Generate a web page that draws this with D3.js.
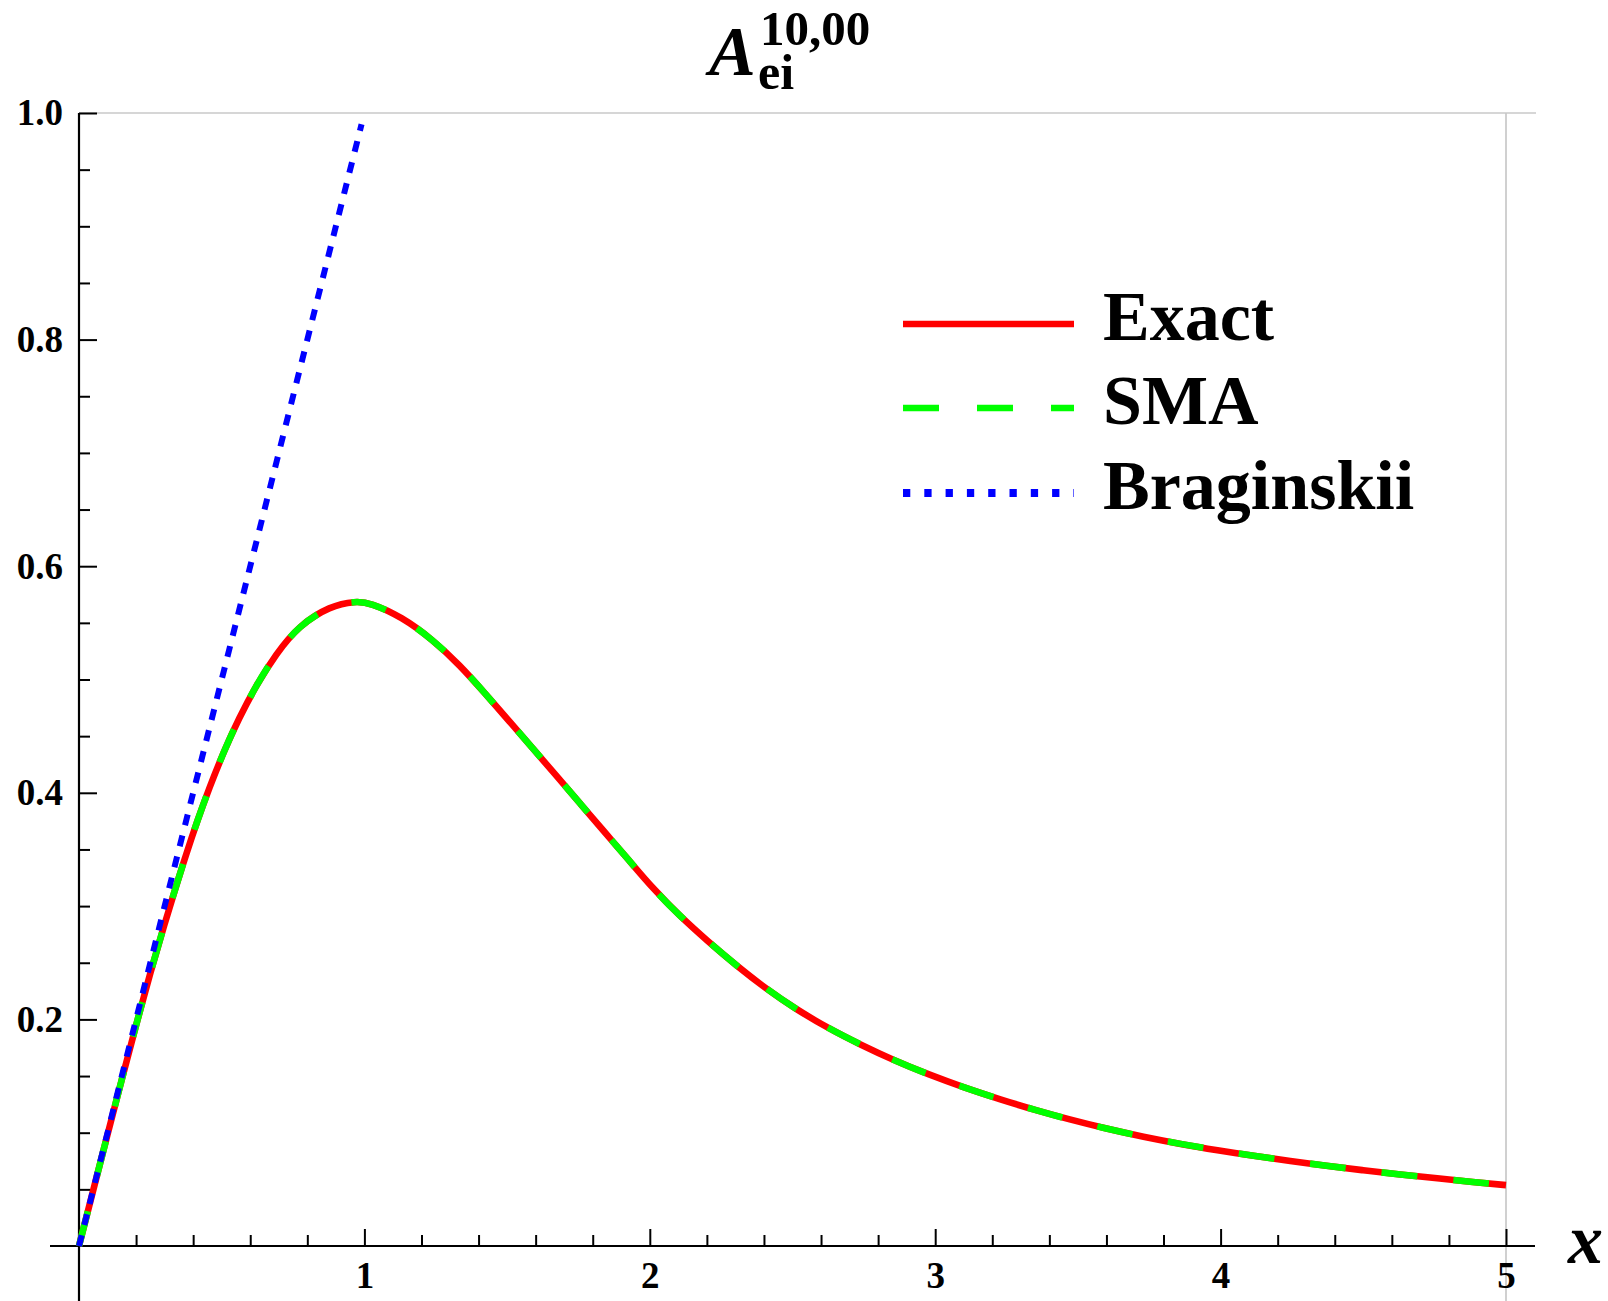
<!DOCTYPE html>
<html><head><meta charset="utf-8">
<script src="https://cdn.jsdelivr.net/npm/d3@7"></script>
<style>
body{margin:0;background:#fff}
text{font-family:"Liberation Serif","Times New Roman",serif;font-weight:bold;fill:#000}
</style>
</head><body>
<svg id="c" width="1608" height="1301"></svg>
<script>
// ---- data ----
const xValues = [0, 0.05, 0.10, 0.15, 0.20, 0.25, 0.30, 0.34, 0.375, 0.415, 0.455, 0.51, 0.56, 0.62, 0.69, 0.77, 0.88, 0.97, 1.02, 1.13, 1.24, 1.335, 1.42, 1.51, 1.59, 1.67, 1.755, 1.84, 1.925, 2.01, 2.105, 2.205, 2.305, 2.405, 2.515, 2.63, 2.74, 2.85, 2.98, 3.10, 3.23, 3.35, 3.47, 3.60, 3.73, 3.86, 3.99, 4.115, 4.245, 4.37, 4.50, 4.63, 4.76, 4.885, 5.0];
const exactValues = [0, 0.0494, 0.0985, 0.147, 0.195, 0.2415, 0.2845, 0.3175, 0.3455, 0.3755, 0.4035, 0.438, 0.4655, 0.4945, 0.5225, 0.5475, 0.565, 0.5692, 0.5677, 0.5555, 0.535, 0.5125, 0.4885, 0.4625, 0.4392, 0.4158, 0.3908, 0.3658, 0.341, 0.3158, 0.2912, 0.2685, 0.2472, 0.2275, 0.2085, 0.1915, 0.1775, 0.1645, 0.151, 0.140, 0.1292, 0.120, 0.1117, 0.1035, 0.0963, 0.090, 0.0845, 0.0796, 0.075, 0.0708, 0.0668, 0.0631, 0.0597, 0.0565, 0.0537];
const smaValues = [0, 0.0494, 0.0985, 0.147, 0.195, 0.2415, 0.2845, 0.3175, 0.3455, 0.3755, 0.4035, 0.438, 0.4655, 0.4945, 0.5225, 0.5475, 0.565, 0.5692, 0.5677, 0.5555, 0.535, 0.5125, 0.4885, 0.4625, 0.4392, 0.4158, 0.3908, 0.3658, 0.341, 0.3158, 0.2912, 0.2685, 0.2472, 0.2275, 0.2085, 0.1915, 0.1775, 0.1645, 0.151, 0.140, 0.1292, 0.120, 0.1117, 0.1035, 0.0963, 0.090, 0.0845, 0.0796, 0.075, 0.0708, 0.0668, 0.0631, 0.0597, 0.0565, 0.0537];
const braginskiiX = [0, 0.99];
const braginskiiValues = [0, 0.99];
const xTickValues = [1, 2, 3, 4, 5];
const xTickLabels = ["1", "2", "3", "4", "5"];
const yTickValues = [0.2, 0.4, 0.6, 0.8, 1.0];
const yTickLabels = ["0.2", "0.4", "0.6", "0.8", "1.0"];
const seriesNames = ["Exact", "SMA", "Braginskii"];
const seriesColors = ["#ff0000", "#00ff00", "#0000ff"];

// ---- layout ----
const svg = d3.select("#c");
const x = d3.scaleLinear().domain([0, 5]).range([79, 1506]);
const y = d3.scaleLinear().domain([0, 1]).range([1246, 113]);

// gray frame (top and right)
svg.append("line").attr("x1", x(0)).attr("x2", 1536).attr("y1", y(1)).attr("y2", y(1))
  .attr("stroke", "#c8c8c8").attr("stroke-width", 1.7);
svg.append("line").attr("x1", x(5)).attr("x2", x(5)).attr("y1", y(1)).attr("y2", 1301)
  .attr("stroke", "#c8c8c8").attr("stroke-width", 1.7);

// minor ticks
const minorX = d3.range(1, 25).map(i => i * 0.2).filter(v => Math.abs(v - Math.round(v)) > 1e-6);
const minorY = d3.range(1, 20).map(i => i * 0.05).filter(v => Math.abs(v * 5 - Math.round(v * 5)) > 1e-6);

const gxMinor = svg.append("g").attr("transform", `translate(0,${y(0)})`)
  .call(d3.axisBottom(x).tickValues(minorX).tickSize(-11).tickFormat(""));
const gyMinor = svg.append("g").attr("transform", `translate(${x(0)},0)`)
  .call(d3.axisLeft(y).tickValues(minorY).tickSize(-11).tickFormat(""));

const gx = svg.append("g").attr("transform", `translate(0,${y(0)})`)
  .call(d3.axisBottom(x).tickValues(xTickValues).tickFormat((d, i) => xTickLabels[i])
    .tickSizeInner(-17).tickSizeOuter(0).tickPadding(16));
const gy = svg.append("g").attr("transform", `translate(${x(0)},0)`)
  .call(d3.axisLeft(y).tickValues(yTickValues).tickFormat((d, i) => yTickLabels[i])
    .tickSizeInner(-18).tickSizeOuter(0).tickPadding(16));

[gxMinor, gyMinor, gx, gy].forEach(g => {
  g.select(".domain").remove();
  g.selectAll(".tick line").attr("stroke", "#000").attr("stroke-width", 2);
  g.selectAll("text").attr("font-family", "'Liberation Serif', serif")
    .attr("font-weight", "bold").attr("font-size", 37).attr("fill", "#000");
});

// axis lines
svg.append("line").attr("x1", 50).attr("x2", 1535).attr("y1", y(0)).attr("y2", y(0))
  .attr("stroke", "#000").attr("stroke-width", 2.2);
svg.append("line").attr("x1", x(0)).attr("x2", x(0)).attr("y1", y(1)).attr("y2", 1301)
  .attr("stroke", "#000").attr("stroke-width", 2.2);

// curves
const smooth = d3.line().x(d => x(d[0])).y(d => y(d[1])).curve(d3.curveBasis);
const straight = d3.line().x(d => x(d[0])).y(d => y(d[1]));
const exactPts = xValues.map((v, i) => [v, exactValues[i]]);
const smaPts = xValues.map((v, i) => [v, smaValues[i]]);
const bragPts = braginskiiX.map((v, i) => [v, braginskiiValues[i]]);

svg.append("path").datum(exactPts).attr("d", smooth).attr("fill", "none")
  .attr("stroke", seriesColors[0]).attr("stroke-width", 6.6);
svg.append("path").datum(smaPts).attr("d", smooth).attr("fill", "none")
  .attr("stroke", seriesColors[1]).attr("stroke-width", 6.6).attr("stroke-dasharray", "36,36");
svg.append("path").datum(bragPts).attr("d", straight).attr("fill", "none")
  .attr("stroke", seriesColors[2]).attr("stroke-width", 6).attr("stroke-dasharray", "11,10.7");

// legend
const legendY = [324, 408, 493];
const legendDash = [null, "36,38", "7.3,14"];
seriesNames.forEach((name, i) => {
  const l = svg.append("line").attr("x1", 903).attr("x2", 1074)
    .attr("y1", legendY[i]).attr("y2", legendY[i])
    .attr("stroke", seriesColors[i]).attr("stroke-width", i === 2 ? 8 : 6.6);
  if (legendDash[i]) l.attr("stroke-dasharray", legendDash[i]);
  svg.append("text").attr("x", 1103).attr("y", legendY[i] + 16).attr("font-size", 70)
    .text(name);
});

// title (single text element with sub/superscript tspans)
const title = svg.append("text").attr("x", 709).attr("y", 75);
title.append("tspan").attr("font-size", 70).attr("font-style", "italic").text("A");
title.append("tspan").attr("x", 758).attr("y", 89).attr("font-size", 50).text("ei");
title.append("tspan").attr("x", 760).attr("y", 45).attr("font-size", 49).text("10,00");

// x axis label
svg.append("text").attr("x", 1568).attr("y", 1263).attr("font-size", 70)
  .attr("font-style", "italic").text("x");
</script>
</body></html>
